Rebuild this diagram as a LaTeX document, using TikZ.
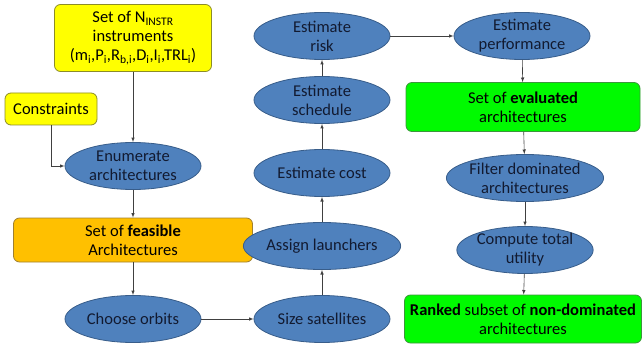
\documentclass[tikz,border=0pt]{standalone}
\usepackage{fontspec}
\setmainfont{Carlito}
\usepackage{tikz}
\usetikzlibrary{positioning}
\usetikzlibrary{calc}
\usetikzlibrary{arrows,shapes.geometric}

\definecolor{procblue}{RGB}{79,129,189}
\definecolor{procline}{RGB}{56,93,138}
\definecolor{instryellow}{RGB}{255,255,0}
\definecolor{instrline}{RGB}{140,140,40}
\definecolor{feasorange}{RGB}{255,192,0}
\definecolor{feasline}{RGB}{160,128,48}
\definecolor{evalgreen}{RGB}{0,250,0}
\definecolor{evalline}{RGB}{60,150,60}
\definecolor{proctext}{RGB}{18,26,48}

\tikzset{
  proc/.style={ellipse, draw=procline, fill=procblue, text=proctext, align=center,
    minimum width=136pt, minimum height=47pt, inner sep=0pt, line width=0.8pt},
  setbox/.style={rectangle, rounded corners=6pt, align=center, inner sep=0pt, line width=0.8pt},
  flow/.style={-latex, draw=black!75, line width=0.6pt}
}

\begin{document}
\begin{tikzpicture}[x=1pt,y=-1pt,font=\fontsize{16.5}{19}\selectfont]
\useasboundingbox (0,0) rectangle (642,350);

\node[setbox, draw=instrline, fill=instryellow, minimum width=157pt, minimum height=67pt](instr) at (133,38)
  {Set of N\textsubscript{INSTR}\\instruments\\(m\textsubscript{i},P\textsubscript{i},R\textsubscript{b,i},D\textsubscript{i},I\textsubscript{i},TRL\textsubscript{i})};
\node[setbox, draw=instrline, fill=instryellow, minimum width=92pt, minimum height=32pt](constr) at (51,109){Constraints};
\node[proc](enum) at (133,166){Enumerate\\architectures};
\node[setbox, draw=feasline, fill=feasorange, minimum width=239pt, minimum height=44pt](feas) at ($(enum)+(0,74)$)
  {Set of \textbf{feasible}\\Architectures};
\node[proc](orbit) at ($(enum)+(0,153)$){Choose orbits};

\node[proc](size) at (322,319){Size satellites};
\node[proc](launch) at ($(size)+(0,-73)$){Assign launchers};
\node[proc](cost) at ($(size)+(0,-146)$){Estimate cost};
\node[proc](sched) at ($(size)+(0,-219)$){Estimate\\schedule};
\node[proc](risk) at ($(size)+(0,-283)$){Estimate\\risk};

\node[proc](perf) at (522,36){Estimate\\performance};
\node[setbox, draw=evalline, fill=evalgreen, minimum width=234pt, minimum height=49pt](eval) at (523,107)
  {Set of \textbf{evaluated}\\architectures};
\node[proc](filt) at (525,178){Filter dominated\\architectures};
\node[proc](util) at (525,250){Compute total\\utility};
\node[setbox, draw=evalline, fill=evalgreen, minimum width=237pt, minimum height=48pt](rank) at (523,319)
  {\textbf{Ranked} subset of \textbf{non-dominated}\\architectures};

\path
(instr) edge[flow]node{} (enum)
(enum) edge[flow]node{} (feas)
(feas) edge[flow]node{} (orbit)
(orbit) edge[flow]node{} (size)
(size) edge[flow]node{} (launch)
(launch) edge[flow]node{} (cost)
(cost) edge[flow]node{} (sched)
(sched) edge[flow]node{} (risk)
(risk) edge[flow]node{} (perf)
(perf) edge[flow]node{} (eval)
(eval) edge[flow]node{} (filt)
(filt) edge[flow]node{} (util)
(util) edge[flow]node{} (rank);
\draw[flow] (constr.south) |- (enum.west);
\end{tikzpicture}
\end{document}
